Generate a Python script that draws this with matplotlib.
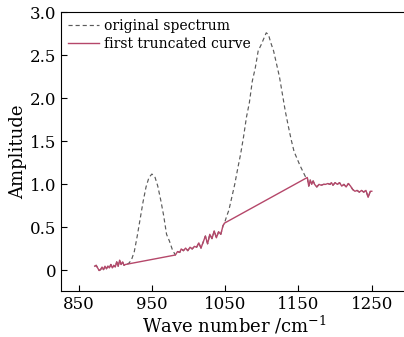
import numpy as np
import matplotlib
matplotlib.use('Agg')
import matplotlib.pyplot as plt

plt.rcParams['font.family'] = ['DejaVu Serif']
plt.rcParams['mathtext.fontset'] = 'dejavuserif'

# noisy baseline pieces (shared by both curves)
noise1_x = [872, 874, 876, 878, 880, 882, 884, 886, 888, 890, 892, 894, 896, 898, 900,
            902, 904, 906, 908, 910, 912, 914]
noise1_y = [0.05, 0.06, 0.03, 0.0, 0.01, 0.04, 0.01, 0.05, 0.02, 0.05, 0.03, 0.07, 0.03,
            0.06, 0.04, 0.10, 0.05, 0.12, 0.07, 0.10, 0.06, 0.07]

peak1_x = [918, 922, 926, 930, 934, 938, 942, 946, 950, 954, 958, 962, 966, 970, 974, 978]
peak1_y = [0.08, 0.12, 0.22, 0.40, 0.60, 0.80, 0.97, 1.08, 1.12, 1.09, 0.98, 0.82, 0.64,
           0.42, 0.34, 0.24]

noise2_x = [982, 985, 988, 990, 993, 996, 999, 1002, 1005, 1008, 1011, 1014, 1017, 1020,
            1023, 1026, 1029, 1032, 1035, 1038, 1041, 1044, 1047, 1049]
noise2_y = [0.18, 0.22, 0.21, 0.25, 0.23, 0.26, 0.23, 0.27, 0.25, 0.28, 0.27, 0.32, 0.26,
            0.33, 0.40, 0.31, 0.42, 0.37, 0.46, 0.38, 0.45, 0.42, 0.52, 0.55]

peak2_x = [1052, 1055, 1059, 1063, 1067, 1071, 1075, 1079, 1083, 1087, 1091, 1095, 1099,
           1103, 1106, 1109, 1112, 1116, 1120, 1124, 1128, 1132, 1136, 1140, 1144, 1148,
           1152, 1156, 1160]
peak2_y = [0.63, 0.70, 0.85, 1.00, 1.18, 1.35, 1.55, 1.78, 1.95, 2.20, 2.35, 2.55, 2.62,
           2.70, 2.76, 2.74, 2.65, 2.55, 2.40, 2.25, 2.05, 1.85, 1.68, 1.52, 1.38, 1.30,
           1.22, 1.15, 1.08]

noise3_x = [1162, 1164, 1166, 1168, 1170, 1172, 1175, 1178, 1181, 1184, 1187, 1190, 1193,
            1195, 1197, 1200, 1203, 1206, 1209, 1212, 1215, 1218, 1221, 1224, 1227, 1230,
            1233, 1236, 1239, 1242, 1245, 1248, 1250]
noise3_y = [1.08, 0.98, 1.05, 1.00, 1.04, 1.00, 0.97, 1.00, 0.99, 1.00, 1.00, 1.01, 1.00,
            1.02, 0.99, 1.02, 1.00, 1.02, 0.98, 1.00, 0.97, 1.01, 0.98, 0.94, 0.92, 0.93,
            0.91, 0.93, 0.91, 0.93, 0.85, 0.92, 0.92]

orig_x = noise1_x + peak1_x + noise2_x + peak2_x + noise3_x
orig_y = noise1_y + peak1_y + noise2_y + peak2_y + noise3_y
# truncated curve: peaks replaced by straight lines between their end points
trunc_x = noise1_x + noise2_x + noise3_x
trunc_y = noise1_y + noise2_y + noise3_y

fig = plt.figure(figsize=(4.04, 3.37), dpi=100)
ax = fig.add_axes([0.151, 0.136, 0.86, 0.828])

ax.plot(orig_x, orig_y, linestyle=(0, (3.5, 2.5)), color='#5a5a5a', lw=0.85,
        label='original spectrum')
ax.plot(trunc_x, trunc_y, color='#b5476a', lw=1.0, label='first truncated curve')

ax.set_xlim(826, 1300)
ax.set_ylim(-0.24, 3.0)
ax.set_xticks([850, 950, 1050, 1150, 1250])
ax.set_yticks([0, 0.5, 1.0, 1.5, 2.0, 2.5, 3.0])
ax.set_yticklabels(['0', '0.5', '1.0', '1.5', '2.0', '2.5', '3.0'])
ax.tick_params(direction='in', labelsize=12, length=4, width=0.8)
ax.set_xlabel('Wave number /cm$^{-1}$', fontsize=13, labelpad=1)
ax.set_ylabel('Amplitude', fontsize=13, labelpad=2)
ax.spines['right'].set_visible(False)

ax.legend(loc='upper left', frameon=False, fontsize=10, handlelength=2.2,
          borderaxespad=0.1, handletextpad=0.4, labelspacing=0.3)

fig.savefig('out.png', dpi=100)
